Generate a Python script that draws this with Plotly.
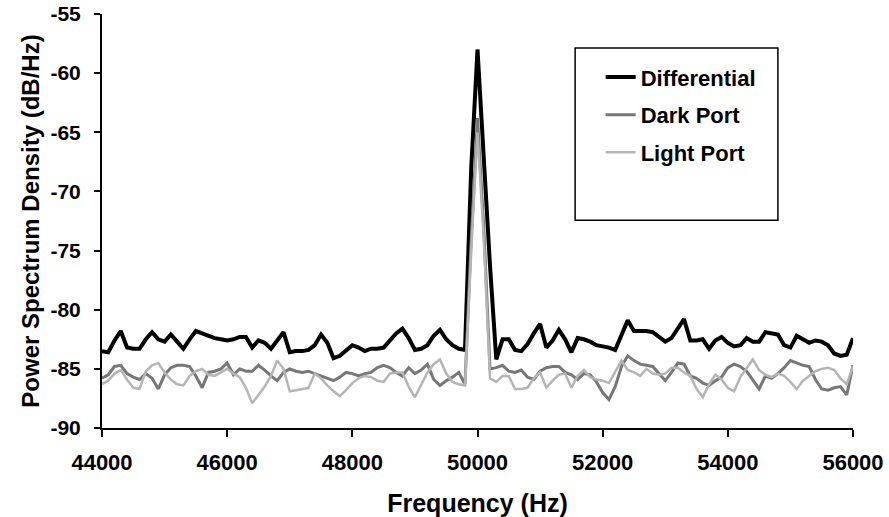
import plotly.graph_objects as go

freq = list(range(44000, 56001, 100))

differential = [
    -83.5, -83.6, -82.6, -81.8, -83.2, -83.3, -83.3, -82.5, -81.9, -82.5,  # 44000-44900
    -82.7, -82.1, -82.7, -83.3, -82.5, -81.8, -82.0, -82.2, -82.4, -82.5,  # 45000-45900
    -82.6, -82.5, -82.3, -82.3, -83.2, -82.6, -82.8, -83.3, -82.6, -81.9,  # 46000-46900
    -83.6, -83.5, -83.5, -83.4, -83.0, -82.1, -82.8, -84.1, -83.9, -83.4,  # 47000-47900
    -83.0, -83.2, -83.5, -83.3, -83.3, -83.2, -82.6, -82.0, -81.6, -82.4,  # 48000-48900
    -83.4, -83.3, -83.0, -82.2, -81.7, -82.5, -83.0, -83.3, -83.4, -68.0,  # 49000-49900
    -58.0, -67.4, -76.3, -84.2, -82.5, -82.5, -83.4, -83.5, -82.9, -82.0,  # 50000-50900
    -81.2, -83.2, -82.6, -81.7, -82.5, -83.6, -82.4, -82.5, -82.7, -83.0,  # 51000-51900
    -83.1, -83.2, -83.4, -82.1, -80.9, -81.8, -81.8, -81.8, -81.9, -82.3,  # 52000-52900
    -82.7, -82.4, -81.6, -80.8, -82.6, -82.6, -82.5, -83.3, -82.6, -82.3,  # 53000-53900
    -82.8, -83.1, -83.0, -82.4, -82.7, -82.7, -81.9, -82.0, -82.1, -83.0,  # 54000-54900
    -83.2, -82.2, -82.5, -82.8, -82.6, -82.7, -83.0, -83.7, -83.9, -83.8,  # 55000-55900
    -82.4,                                                                 # 56000
]

dark_port = [
    -85.8, -85.5, -84.8, -84.7, -85.4, -85.7, -85.9, -85.4, -85.8, -86.7,
    -85.5, -84.9, -84.7, -84.7, -84.8, -85.6, -86.6, -85.3, -85.2, -85.0,
    -84.5, -85.5, -85.0, -85.2, -85.2, -84.7, -85.1, -85.6, -86.0, -85.3,
    -85.0, -85.2, -85.3, -85.2, -85.4, -85.6, -85.8, -86.0, -85.7, -85.3,
    -85.4, -85.6, -85.4, -85.3, -84.9, -84.7, -84.9, -85.3, -85.6, -84.9,
    -85.4, -85.1, -84.6, -85.9, -86.4, -86.0, -85.7, -85.3, -86.3, -74.0,
    -63.8, -73.0, -85.0, -84.9, -84.7, -85.2, -85.3, -85.1, -85.7, -85.9,
    -85.2, -84.9, -84.8, -84.8, -85.3, -85.5, -85.9, -85.4, -85.5, -86.1,
    -87.0, -87.6, -86.5, -84.8, -83.9, -84.3, -84.6, -84.7, -84.8, -85.4,
    -86.0, -85.3, -84.5, -84.6, -85.6, -85.8, -86.2, -86.4, -86.0, -85.7,
    -84.9, -84.6, -84.8, -85.2, -86.0, -86.7, -85.6, -85.8, -85.4, -84.9,
    -84.3, -84.5, -84.7, -84.8, -85.9, -86.7, -86.8, -86.6, -86.5, -87.2,
    -84.7,
]

light_port = [
    -86.3, -86.0, -85.4, -85.1, -85.9, -86.6, -86.7, -85.2, -84.7, -84.5,
    -85.3, -85.9, -86.3, -86.4, -85.6, -85.2, -85.0, -85.5, -85.6, -85.3,
    -85.0, -85.4, -85.7, -86.6, -87.9, -87.2, -86.5, -85.6, -84.3, -85.0,
    -86.9, -86.8, -86.7, -86.6, -85.4, -85.8, -86.4, -86.9, -87.3, -86.8,
    -86.2, -85.8, -85.6, -85.7, -86.0, -86.1, -85.4, -85.3, -85.3, -86.5,
    -87.4, -86.4, -85.3, -84.6, -84.2, -85.4, -86.1, -86.3, -86.4, -75.0,
    -65.0, -74.0, -85.8, -86.1, -85.6, -85.6, -86.7, -86.7, -86.6, -85.8,
    -85.3, -86.6, -86.0, -85.5, -85.4, -86.6, -85.6, -85.1, -85.7, -85.9,
    -86.0, -86.2, -85.2, -84.3, -85.1, -85.3, -85.6, -85.0, -85.4, -85.5,
    -85.4, -84.9, -84.9, -85.3, -85.6, -86.7, -87.4, -86.3, -85.5, -85.9,
    -86.6, -86.9, -85.7, -84.9, -84.2, -85.1, -85.5, -85.7, -85.4, -85.6,
    -86.1, -86.7, -86.0, -85.6, -85.2, -85.0, -84.9, -85.1, -85.8, -86.3,
    -84.8,
]

x_ticks = [44000, 46000, 48000, 50000, 52000, 54000, 56000]
y_ticks = [-90, -85, -80, -75, -70, -65, -60, -55]

FONT = "Liberation Sans, Arial, sans-serif"

fig = go.Figure()
fig.add_trace(go.Scatter(x=freq, y=differential, mode="lines", name="Differential",
                         line=dict(color="#000000", width=4), legendgroup="a"))
fig.add_trace(go.Scatter(x=freq, y=dark_port, mode="lines", name="Dark Port",
                         line=dict(color="#777777", width=3), legendgroup="b"))
fig.add_trace(go.Scatter(x=freq, y=light_port, mode="lines", name="Light Port",
                         line=dict(color="#b5b5b5", width=2.5), legendgroup="c"))

fig.update_layout(
    width=889, height=517,
    margin=dict(l=102, r=36, t=14, b=89),
    plot_bgcolor="white", paper_bgcolor="white",
    font=dict(family=FONT, size=22, color="black", weight="bold"),
    showlegend=True,
    legend=dict(
        x=0.664, y=0.898, xanchor="left", yanchor="top",
        bgcolor="rgba(0,0,0,0)", borderwidth=0,
        traceorder="grouped", tracegroupgap=6,
        font=dict(family=FONT, size=22, color="black", weight="bold"),
        itemwidth=30,
    ),
    shapes=[dict(type="rect", xref="paper", yref="paper",
                 x0=0.63, x1=0.9, y0=0.502, y1=0.918,
                 line=dict(color="black", width=1.5), fillcolor="rgba(0,0,0,0)", layer="below")],
)

fig.update_xaxes(
    range=[44000, 56000], tickvals=x_ticks, ticktext=[str(v) for v in x_ticks],
    showgrid=False, zeroline=False, showline=True, linecolor="black", linewidth=2,
    ticks="outside", ticklen=7, tickwidth=2, tickcolor="black", ticklabelstandoff=7,
    automargin=False,
    title=dict(text="Frequency (Hz)", font=dict(family=FONT, size=25, weight="bold"), standoff=23),
    tickfont=dict(family=FONT, size=22, weight="bold"),
)
fig.update_yaxes(
    range=[-90, -55], tickvals=y_ticks, ticktext=[str(v) for v in y_ticks],
    showgrid=False, zeroline=False, showline=True, linecolor="black", linewidth=2,
    ticks="outside", ticklen=6, tickwidth=2, tickcolor="black", ticklabelstandoff=9,
    automargin=False,
    title=dict(text="Power Spectrum Density (dB/Hz)", font=dict(family=FONT, size=24, weight="bold"), standoff=4),
    tickfont=dict(family=FONT, size=21, weight="bold"),
)

fig.write_html("out.html")
